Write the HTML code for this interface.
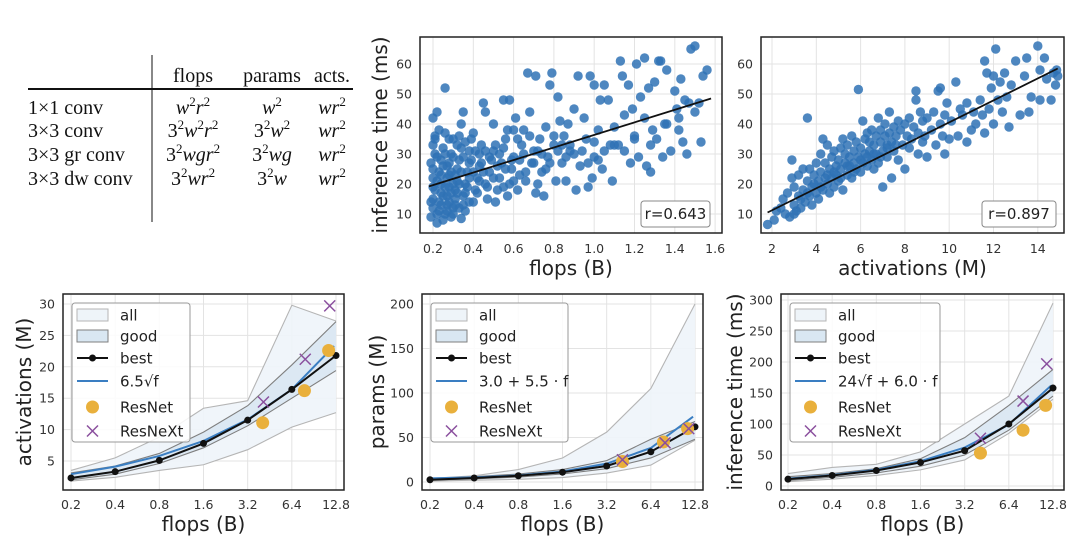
<!DOCTYPE html>
<html><head><meta charset="utf-8">
<style>
html,body{margin:0;padding:0;background:#fff;width:1080px;height:548px;overflow:hidden}
svg{display:block}
.tk{font-family:"DejaVu Sans","Liberation Sans",sans-serif;font-size:12.5px;fill:#333}
.al{font-family:"DejaVu Sans","Liberation Sans",sans-serif;font-size:20px;fill:#222}
.lg{font-family:"DejaVu Sans","Liberation Sans",sans-serif;font-size:15px;fill:#222}
.tb{font-family:"Liberation Serif",serif;font-size:20px;fill:#111}
</style></head>
<body>
<svg id="fig" width="1080" height="548" viewBox="0 0 1080 548" xmlns="http://www.w3.org/2000/svg">
<g>
<line x1="152" y1="55" x2="152" y2="222" stroke="#111" stroke-width="1"/>
<line x1="28" y1="89" x2="353" y2="89" stroke="#111" stroke-width="2"/>
<text class="tb" x="193" y="82" text-anchor="middle">flops</text>
<text class="tb" x="272" y="82" text-anchor="middle">params</text>
<text class="tb" x="332" y="82" text-anchor="middle">acts.</text>
<text class="tb" x="28" y="114">1×1 conv</text>
<text class="tb" x="28" y="137">3×3 conv</text>
<text class="tb" x="28" y="161">3×3 gr conv</text>
<text class="tb" x="28" y="185">3×3 dw conv</text>
<g font-style="italic">
<text class="tb" x="193" y="114" text-anchor="middle">w<tspan dy="-8" font-size="13" font-style="normal">2</tspan><tspan dy="8">r</tspan><tspan dy="-8" font-size="13" font-style="normal">2</tspan></text>
<text class="tb" x="272" y="114" text-anchor="middle">w<tspan dy="-8" font-size="13" font-style="normal">2</tspan></text>
<text class="tb" x="332" y="114" text-anchor="middle">wr<tspan dy="-8" font-size="13" font-style="normal">2</tspan></text>
<text class="tb" x="193" y="137" text-anchor="middle"><tspan font-style="normal">3</tspan><tspan dy="-8" font-size="13" font-style="normal">2</tspan><tspan dy="8">w</tspan><tspan dy="-8" font-size="13" font-style="normal">2</tspan><tspan dy="8">r</tspan><tspan dy="-8" font-size="13" font-style="normal">2</tspan></text>
<text class="tb" x="272" y="137" text-anchor="middle"><tspan font-style="normal">3</tspan><tspan dy="-8" font-size="13" font-style="normal">2</tspan><tspan dy="8">w</tspan><tspan dy="-8" font-size="13" font-style="normal">2</tspan></text>
<text class="tb" x="332" y="137" text-anchor="middle">wr<tspan dy="-8" font-size="13" font-style="normal">2</tspan></text>
<text class="tb" x="193" y="161" text-anchor="middle"><tspan font-style="normal">3</tspan><tspan dy="-8" font-size="13" font-style="normal">2</tspan><tspan dy="8">wgr</tspan><tspan dy="-8" font-size="13" font-style="normal">2</tspan></text>
<text class="tb" x="272" y="161" text-anchor="middle"><tspan font-style="normal">3</tspan><tspan dy="-8" font-size="13" font-style="normal">2</tspan><tspan dy="8">wg</tspan></text>
<text class="tb" x="332" y="161" text-anchor="middle">wr<tspan dy="-8" font-size="13" font-style="normal">2</tspan></text>
<text class="tb" x="193" y="185" text-anchor="middle"><tspan font-style="normal">3</tspan><tspan dy="-8" font-size="13" font-style="normal">2</tspan><tspan dy="8">wr</tspan><tspan dy="-8" font-size="13" font-style="normal">2</tspan></text>
<text class="tb" x="272" y="185" text-anchor="middle"><tspan font-style="normal">3</tspan><tspan dy="-8" font-size="13" font-style="normal">2</tspan><tspan dy="8">w</tspan></text>
<text class="tb" x="332" y="185" text-anchor="middle">wr<tspan dy="-8" font-size="13" font-style="normal">2</tspan></text>
</g>
</g>
</svg>
<script>
// ---------- scatter data ([x, y] pairs) ----------
const flopsTimePts=[[0.19,9],[0.2,12],[0.2,15],[0.21,18],[0.2,22],[0.19,27],[0.21,30],[0.2,33],[0.21,36],[0.2,42],[0.22,44],[0.22,7],[0.23,11],[0.23,14],[0.24,17],[0.24,20],[0.23,24],[0.24,28],[0.25,32],[0.26,37],[0.26,52],[0.26,10],[0.27,13],[0.27,16],[0.28,19],[0.28,23],[0.27,26],[0.29,30],[0.3,35],[0.29,9],[0.3,12],[0.31,15],[0.31,18],[0.32,21],[0.32,25],[0.33,28],[0.34,32],[0.33,36],[0.34,8.5],[0.34,40],[0.35,44],[0.35,13],[0.36,17],[0.36,20],[0.37,24],[0.38,27],[0.38,31],[0.39,35],[0.4,14],[0.4,37],[0.41,18],[0.42,22],[0.43,26],[0.43,30],[0.44,33],[0.45,47],[0.46,44],[0.46,20],[0.47,15],[0.48,24],[0.49,28],[0.5,31],[0.5,40],[0.51,14],[0.52,18],[0.53,22],[0.54,27],[0.55,48],[0.55,32],[0.56,35],[0.57,16],[0.58,20],[0.58,48],[0.59,25],[0.6,29],[0.6,38],[0.61,42],[0.62,18],[0.63,23],[0.64,33],[0.65,38],[0.66,21],[0.67,57],[0.68,44],[0.69,27],[0.7,31],[0.71,56],[0.71,17],[0.72,20],[0.73,35],[0.74,24],[0.75,16],[0.76,39],[0.77,29],[0.78,53],[0.79,57],[0.8,33],[0.81,21],[0.82,49],[0.83,41],[0.84,27],[0.85,36],[0.86,21],[0.87,40],[0.88,31],[0.9,45],[0.91,18],[0.92,56],[0.93,26],[0.95,42],[0.96,35],[0.97,19],[0.98,56],[0.99,22],[1.0,53],[1.0,29],[1.02,38],[1.03,48],[1.04,25],[1.05,53],[1.07,48],[1.08,33],[1.09,21],[1.1,39],[1.12,33],[1.13,61],[1.14,56],[1.15,43],[1.17,53],[1.18,27],[1.19,45],[1.2,36],[1.21,60],[1.22,29],[1.23,49],[1.25,42],[1.25,62],[1.26,26],[1.27,52],[1.28,24],[1.29,38],[1.3,54],[1.31,35],[1.32,61],[1.33,61],[1.34,29],[1.35,40],[1.36,58],[1.38,31],[1.4,51],[1.41,45],[1.42,38],[1.43,55],[1.44,34],[1.45,48],[1.46,30],[1.48,65],[1.5,66],[1.5,44],[1.52,47],[1.53,34],[1.54,56],[1.56,58],
[0.19,14],[0.2,19],[0.2,25],[0.21,35],[0.22,10],[0.22,21],[0.22,29],[0.23,38],[0.24,13],[0.24,23],[0.25,8],[0.25,16],[0.25,26],[0.26,19],[0.26,30],[0.27,11],[0.27,22],[0.28,14],[0.28,27],[0.28,35],[0.29,17],[0.29,24],[0.3,10],[0.3,20],[0.3,29],[0.31,13],[0.31,23],[0.32,17],[0.32,33],[0.33,12],[0.33,20],[0.34,24],[0.35,16],[0.35,29],[0.36,11],[0.36,34],[0.37,19],[0.38,14],[0.38,22],[0.39,28],[0.4,24],[0.41,31],[0.42,17],[0.43,21],[0.44,27],[0.45,24],[0.46,31],[0.47,19],[0.48,29],[0.5,22],[0.51,33],[0.52,26],[0.53,30],[0.55,19],[0.56,25],[0.57,38],[0.59,28],[0.6,21],[0.62,35],[0.63,28],[0.65,30],[0.66,24],[0.68,36],[0.7,27],[0.72,31],[0.74,30],[0.76,25],[0.78,27],[0.8,36],[0.82,31],[0.84,33],[0.86,29],[0.88,33],[0.9,30],[0.94,31],[0.97,27],[1.0,34],[1.02,28],[1.05,31],[1.1,33],[1.15,31],[1.2,35],[1.28,33],[1.36,40],[1.42,42],[1.47,47]];
const actTimePts=[[1.8,6.5],[2.1,8],[2.2,11],[2.4,12],[2.5,15],[2.6,10],[2.7,17],[2.8,9],[2.9,28],[2.9,22],[3.0,13],[3.0,19],[3.1,11],[3.2,16],[3.2,23],[3.3,12],[3.4,25],[3.4,18],[3.5,14],[3.6,42],[3.6,21],[3.7,16],[3.7,25],[3.8,19],[3.8,13],[3.9,23],[4.0,17],[4.0,27],[4.1,21],[4.1,15],[4.2,30],[4.2,24],[4.3,18],[4.3,35],[4.4,22],[4.4,27],[4.5,33],[4.5,20],[4.6,25],[4.6,17],[4.7,29],[4.7,22],[4.8,31],[4.8,19],[4.9,26],[4.9,23],[5.0,28],[5.0,21],[5.1,32],[5.1,25],[5.2,35],[5.2,18],[5.3,27],[5.3,30],[5.4,23],[5.4,33],[5.5,26],[5.5,29],[5.6,36],[5.6,22],[5.7,31],[5.7,27],[5.8,25],[5.8,34],[5.9,51.5],[5.9,29],[6.0,32],[6.0,24],[6.1,41],[6.1,27],[6.2,35],[6.2,30],[6.3,26],[6.3,37],[6.4,31],[6.4,34],[6.5,28],[6.5,38],[6.6,33],[6.6,25],[6.7,36],[6.7,30],[6.8,42],[6.8,27],[6.9,34],[6.9,38],[7.0,31],[7.0,19],[7.1,36],[7.1,40],[7.2,33],[7.2,29],[7.3,44],[7.3,37],[7.4,34],[7.4,22],[7.5,39],[7.5,31],[7.6,36],[7.7,41],[7.7,28],[7.8,38],[7.9,33],[8.0,40],[8.0,25],[8.1,36],[8.2,42],[8.3,35],[8.4,39],[8.5,48],[8.5,51],[8.6,37],[8.6,30],[8.7,44],[8.8,41],[8.9,36],[9.0,42],[9.0,29],[9.2,38],[9.3,44],[9.4,33],[9.5,51],[9.6,40],[9.6,52],[9.7,36],[9.8,43],[9.8,30],[9.9,47],[10.0,35],[10.1,41],[10.3,54],[10.4,36],[10.5,45],[10.6,43],[10.8,34],[10.8,47],[11.0,38],[11.1,44],[11.2,40],[11.4,48],[11.5,43],[11.6,61],[11.6,37],[11.7,57],[11.8,45],[11.9,52],[12.0,40],[12.0,56],[12.1,65],[12.2,48],[12.3,54],[12.4,44],[12.5,57],[12.6,49],[12.7,39],[12.8,53],[13.0,61],[13.2,43],[13.4,56],[13.5,62],[13.6,44],[13.7,49],[14.0,66],[14.1,58],[14.1,48],[14.3,62],[14.4,55],[14.6,48],[14.7,57],[14.8,53],[14.9,56],[14.85,58],
[3.0,10],[3.3,15],[3.6,17],[3.9,20],[4.2,19],[4.5,23],[4.8,24],[5.1,22],[5.4,26],[5.7,24],[6.0,28],[6.3,29],[6.6,30],[6.9,29],[7.2,32],[7.6,33],[8.2,32],[8.8,34]];
const fit1X=[0.18,1.58], fit1Y=[19.2,48.5];
const fit2X=[1.8,14.9], fit2Y=[10.5,58.5];
const xTicks1=[0.2,0.4,0.6,0.8,1.0,1.2,1.4,1.6];
const xTicks2=[2,4,6,8,10,12,14];
const yTicksScatter=[10,20,30,40,50,60];
// ---------- line chart data ----------
const flops=[0.2,0.4,0.8,1.6,3.2,6.4,12.8];
const actBest=[2.3,3.3,5.1,7.8,11.5,16.4,21.8];
const actFit=[2.9,4.1,5.8,8.2,11.6,16.4,23.3];
const actAllHi=[3.5,5.5,8.8,13.4,14.6,29.8,27.3];
const actAllLo=[1.8,2.4,3.5,4.4,6.8,10.4,12.7];
const actGoodHi=[3.1,4.2,6.2,9.6,13.8,20.3,27.2];
const actGoodLo=[2.0,2.9,4.6,7.1,10.6,15.0,19.4];
const actResNetX=[4.05,7.8,11.4], actResNetY=[11.1,16.2,22.6];
const actResNeXtX=[4.1,7.9,11.6], actResNeXtY=[14.4,21.2,29.7];
const parBest=[2.5,4.5,7,11,18,34,62];
const parFit=[4.1,5.2,7.4,11.8,20.6,38.2,73.4];
const parAllHi=[4,7,14,27,56,105,200];
const parAllLo=[1,2,3,5,10,19,47];
const parGoodHi=[3.5,6,9,14,24,48,68];
const parGoodLo=[2,3.5,5.5,9,15,27,48];
const parResNetX=[4.1,7.8,11.4], parResNetY=[23,45,60];
const parResNeXtX=[4.1,8.0,11.6], parResNeXtY=[25,44,60];
const timBest=[11,17,25,38,57,100,158];
const timFit=[11.9,17.6,26.3,40,62,99,162];
const timAllHi=[20,30,35,55,100,145,295];
const timAllLo=[7,11,17,26,42,85,140];
const timGoodHi=[15,20,28,44,78,130,188];
const timGoodLo=[9,14,21,32,50,90,145];
const timResNetX=[4.1,8.0,11.4], timResNetY=[53,90,130];
const timResNeXtX=[4.1,8.0,11.6], timResNeXtY=[77,137,197];
const actYTicks=[5,10,15,20,25,30];
const parYTicks=[0,50,100,150,200];
const timYTicks=[0,50,100,150,200,250,300];
const flopTickLabels=["0.2","0.4","0.8","1.6","3.2","6.4","12.8"];

const NS="http://www.w3.org/2000/svg";
const svg=document.getElementById('fig');
function mk(tag,attrs,parent,txt){const e=document.createElementNS(NS,tag);for(const k in attrs)e.setAttribute(k,attrs[k]);if(txt!==undefined)e.textContent=txt;(parent||svg).appendChild(e);return e;}

function frameGrid(g,x0,x1,y0,y1,xs,ys){
  xs.forEach(x=>{const l=mk('line',{x1:x,x2:x,y1:y0,y2:y1,stroke:'#e3e3e3','stroke-width':1},g);
    
    });
  ys.forEach(y=>{const l=mk('line',{x1:x0,x2:x1,y1:y,y2:y,stroke:'#e3e3e3','stroke-width':1},g);
    
    });
}
function frame(g,x0,x1,y0,y1){
  const r=mk('rect',{x:x0,y:y0,width:x1-x0,height:y1-y0,fill:'none',stroke:'#222','stroke-width':1.5},g);
  
  
}

function scatter(opt){
  const g=mk('g',{});
  
  
  const sx=opt.sx, sy=opt.sy;
  frameGrid(g,opt.x0,opt.x1,opt.y0,opt.y1,opt.xt.map(sx),yTicksScatter.map(sy));
  opt.pts.forEach(p=>{const c=mk('circle',{cx:sx(p[0]),cy:sy(p[1]),r:4.7,fill:'#2f72b5','fill-opacity':0.85},g);
    
    });
  const fl=mk('line',{x1:sx(opt.fx[0]),y1:sy(opt.fy[0]),x2:sx(opt.fx[1]),y2:sy(opt.fy[1]),stroke:'#111','stroke-width':1.8},g);
  
  
  frame(g,opt.x0,opt.x1,opt.y0,opt.y1);
  opt.xt.forEach(v=>{const t=mk('text',{x:sx(v),y:opt.y1+20,'text-anchor':'middle',class:'tk'},g,v.toFixed(opt.dec));
    
    });
  yTicksScatter.forEach(v=>{const t=mk('text',{x:opt.x0-8,y:sy(v)+4.5,'text-anchor':'end',class:'tk'},g,String(v));
    
    });
  const bx=mk('rect',{x:opt.bx,y:201,width:opt.bw,height:26,rx:3,fill:'#fff',stroke:'#888','stroke-width':1},g);
  
  
  const bt=mk('text',{x:opt.bx+opt.bw/2,y:219,'text-anchor':'middle',class:'lg'},g,opt.r);
  
  
  const xl=mk('text',{x:(opt.x0+opt.x1)/2,y:275,'text-anchor':'middle',class:'al'},g,opt.xlab);
  
  
  if(opt.ylab){const yl=mk('text',{x:0,y:0,'text-anchor':'middle',class:'al',transform:`translate(387,135) rotate(-90)`},g,opt.ylab);
    
    }
}
const sYs=v=>214-(v-10)*3.0;
scatter({name:'scatter-flops-vs-time',x0:420,x1:722,y0:37,y1:233,sx:v=>433+(v-0.2)/0.2*40.3,sy:sYs,xt:xTicks1,dec:1,pts:flopsTimePts,fx:fit1X,fy:fit1Y,bx:641,bw:69,r:'r=0.643',xlab:'flops (B)',ylab:'inference time (ms)'});
scatter({name:'scatter-activations-vs-time',x0:761,x1:1064,y0:37,y1:233,sx:v=>772+(v-2)/2*44.3,sy:sYs,xt:xTicks2,dec:0,pts:actTimePts,fx:fit2X,fy:fit2Y,bx:982,bw:74,r:'r=0.897',xlab:'activations (M)'});

function lineChart(o){
  const g=mk('g',{});
  
  
  const sx=v=>o.xa+Math.log2(v/0.2)*(o.xb-o.xa)/6;
  const sy=v=>o.yz-v*o.k;
  const y0=294,y1=490;
  frameGrid(g,o.x0,o.x1,y0,y1,flops.map(sx),o.yt.map(sy));
  const band=(hi,lo,fill,stroke,nm)=>{
    let d='M'+flops.map((f,i)=>sx(f)+','+sy(hi[i])).join('L')+'L'+flops.slice().reverse().map((f,i)=>sx(f)+','+sy(lo[6-i])).join('L')+'Z';
    const p=mk('path',{d:d,fill:fill,'fill-opacity':0.9,stroke:'none'},g);
    
    
    [hi,lo].forEach(arr=>{const l=mk('polyline',{points:flops.map((f,i)=>sx(f)+','+sy(arr[i])).join(' '),fill:'none',stroke:stroke,'stroke-width':1.1},g);
      
      });
  };
  band(o.allHi,o.allLo,'#eef4f9','#b5b5b5','all');
  band(o.goodHi,o.goodLo,'#d9e7f2','#7f7f7f','good');
  const fit=mk('polyline',{points:flops.map((f,i)=>sx(f*(i==6?0.97:1))+','+sy(o.fit[i])).join(' '),fill:'none',stroke:'#3a7ec2','stroke-width':2},g);
  
  
  const bl=mk('polyline',{points:flops.map((f,i)=>sx(f)+','+sy(o.best[i])).join(' '),fill:'none',stroke:'#111','stroke-width':2},g);
  
  
  flops.forEach((f,i)=>{const c=mk('circle',{cx:sx(f),cy:sy(o.best[i]),r:3.5,fill:'#111'},g);
    
    });
  o.rnX.forEach((f,i)=>{const c=mk('circle',{cx:sx(f),cy:sy(o.rnY[i]),r:6.5,fill:'#e9b03c'},g);
    
    });
  o.rxX.forEach((f,i)=>{const cx=sx(f),cy=sy(o.rxY[i]);
    const p=mk('path',{d:`M${cx-5.5},${cy-5.5}L${cx+5.5},${cy+5.5}M${cx-5.5},${cy+5.5}L${cx+5.5},${cy-5.5}`,stroke:'#8a4f9e','stroke-width':1.5,fill:'none'},g);
    
    });
  frame(g,o.x0,o.x1,y0,y1);
  flops.forEach((f,i)=>{const t=mk('text',{x:sx(f),y:509,'text-anchor':'middle',class:'tk'},g,flopTickLabels[i]);
    
    });
  o.yt.forEach(v=>{const t=mk('text',{x:o.x0-8,y:sy(v)+4.5,'text-anchor':'end',class:'tk'},g,String(v));
    
    });
  const xl=mk('text',{x:(o.x0+o.x1)/2,y:531,'text-anchor':'middle',class:'al'},g,'flops (B)');
  
  
  const yl=mk('text',{x:0,y:0,'text-anchor':'middle',class:'al',transform:`translate(${o.ylx},392) rotate(-90)`},g,o.ylab);
  
  
  const L=mk('g',{},g);
  
  
  const lx=o.x0+9;
  const lb=mk('rect',{x:lx,y:303,width:o.lw,height:139,rx:3,fill:'#fff','fill-opacity':0.85,stroke:'#999'},L);
  
  
  const ys=[315,336,358,381,407,431], px=lx+5, tx=lx+48;
  const labels=['all','good','best',o.fitLabel,'ResNet','ResNeXt'];
  const a=mk('rect',{x:px,y:ys[0]-6,width:31,height:12,fill:'#eef4f9',stroke:'#b5b5b5'},L);
  
  
  const b=mk('rect',{x:px,y:ys[1]-6,width:31,height:12,fill:'#d9e7f2',stroke:'#7f7f7f'},L);
  
  
  const c=mk('line',{x1:px,x2:px+31,y1:ys[2],y2:ys[2],stroke:'#111','stroke-width':2},L);
  
  
  mk('circle',{cx:px+15.5,cy:ys[2],r:3.5,fill:'#111'},L);
  const d=mk('line',{x1:px,x2:px+31,y1:ys[3],y2:ys[3],stroke:'#3a7ec2','stroke-width':2},L);
  
  
  const e=mk('circle',{cx:px+15.5,cy:ys[4],r:6.5,fill:'#e9b03c'},L);
  
  
  const q=px+15.5,w=ys[5];
  const f=mk('path',{d:`M${q-5.5},${w-5.5}L${q+5.5},${w+5.5}M${q-5.5},${w+5.5}L${q+5.5},${w-5.5}`,stroke:'#8a4f9e','stroke-width':1.5},L);
  
  
  labels.forEach((s,i)=>{const t=mk('text',{x:tx,y:ys[i]+5.5,class:'lg'},L,s);
    
    });
}
lineChart({name:'chart-activations',x0:63,x1:344,xa:71,xb:336,yz:492.4,k:6.28,yt:actYTicks,best:actBest,fit:actFit,allHi:actAllHi,allLo:actAllLo,goodHi:actGoodHi,goodLo:actGoodLo,rnX:actResNetX,rnY:actResNetY,rxX:actResNeXtX,rxY:actResNeXtY,ylab:'activations (M)',ylx:31,lw:118,fitLabel:'6.5√f'});
lineChart({name:'chart-params',x0:422,x1:703,xa:430,xb:695,yz:482,k:0.89,yt:parYTicks,best:parBest,fit:parFit,allHi:parAllHi,allLo:parAllLo,goodHi:parGoodHi,goodLo:parGoodLo,rnX:parResNetX,rnY:parResNetY,rxX:parResNeXtX,rxY:parResNeXtY,ylab:'params (M)',ylx:384,lw:137,fitLabel:'3.0 + 5.5 · f'});
lineChart({name:'chart-inference-time',x0:781,x1:1064,xa:788,xb:1053,yz:486,k:0.62,yt:timYTicks,best:timBest,fit:timFit,allHi:timAllHi,allLo:timAllLo,goodHi:timGoodHi,goodLo:timGoodLo,rnX:timResNetX,rnY:timResNetY,rxX:timResNeXtX,rxY:timResNeXtY,ylab:'inference time (ms)',ylx:742,lw:150,fitLabel:'24√f + 6.0 · f'});
</script>
</body></html>
